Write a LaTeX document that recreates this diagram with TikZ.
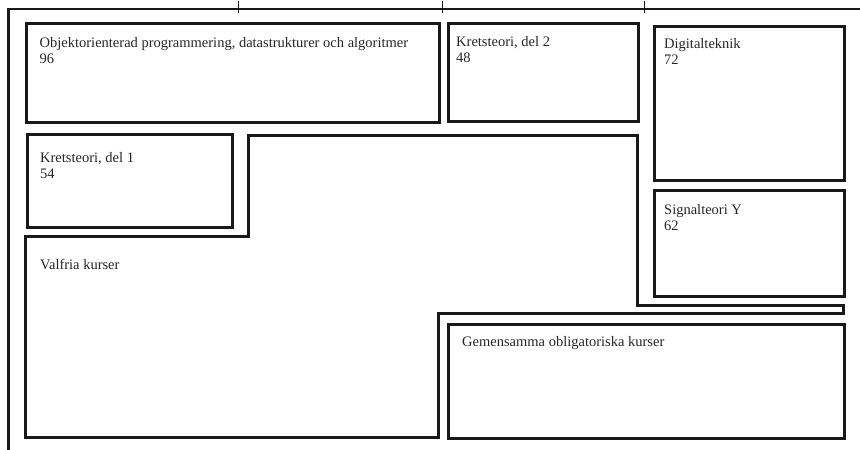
\documentclass[tikz,border=0pt]{standalone}
\usepackage{fontspec}
\setmainfont{Liberation Serif}
\begin{document}
\begin{tikzpicture}[x=1pt,y=-1pt,
  box/.style={draw=black!90, line width=2.8pt, anchor=north west, inner sep=0pt},
  region/.style={draw=black!90, line width=3pt},
  lbl/.style={anchor=base west, inner sep=0pt, font=\fontsize{14.5}{16}\selectfont, text=black!85},
  frame/.style={draw=black!90, line width=2.8pt},
  tick/.style={draw=black!90, line width=0.8pt}]
\useasboundingbox (0,0) rectangle (860,450);
% partial label cut at top
\begin{scope}
\clip (0,0) rectangle (860,4);
\node[lbl] (ycut) at (20,-6) {y};
\end{scope}
% outer frame
\draw[frame] (8.5,452) -- (8.5,9) -- (862,9);
\foreach \t/\xx in {t1/238,t2/442,t3/644} {\draw[tick] (\xx,1) -- (\xx,13);}
% boxes
\node[box, minimum width=413pt, minimum height=99pt] (oop) at (25,22) {};
\node[box, minimum width=190pt, minimum height=98pt] (kd2) at (447,22) {};
\node[box, minimum width=190pt, minimum height=154pt] (dig) at (653,25) {};
\node[box, minimum width=190pt, minimum height=106pt] (sig) at (653,189) {};
\node[box, minimum width=205pt, minimum height=93pt] (kd1) at (26,133) {};
\node[box, minimum width=396pt, minimum height=114pt] (gem) at (447,323) {};
% Valfria kurser region
\draw[region] (25,236) -- (248,236) -- (248,135) -- (637,135) -- (637,305) -- (843,305) -- (843,313) -- (438,313) -- (438,437) -- (25,437) -- cycle;
% labels
\node[lbl] (toop) at (39.5,47) {Objektorienterad programmering, datastrukturer och algoritmer};
\node[lbl] (noop) at (39.5,63) {96};
\node[lbl] (tkd2) at (456,46) {Kretsteori, del 2};
\node[lbl] (nkd2) at (456,62) {48};
\node[lbl] (tdig) at (664,48) {Digitalteknik};
\node[lbl] (ndig) at (664,64) {72};
\node[lbl] (tkd1) at (40,162) {Kretsteori, del 1};
\node[lbl] (nkd1) at (40,178) {54};
\node[lbl] (tsig) at (664,214) {Signalteori Y};
\node[lbl] (nsig) at (664,230) {62};
\node[lbl] (tval) at (40,269) {Valfria kurser};
\node[lbl] (tgem) at (462,346) {Gemensamma obligatoriska kurser};
\end{tikzpicture}
\end{document}
